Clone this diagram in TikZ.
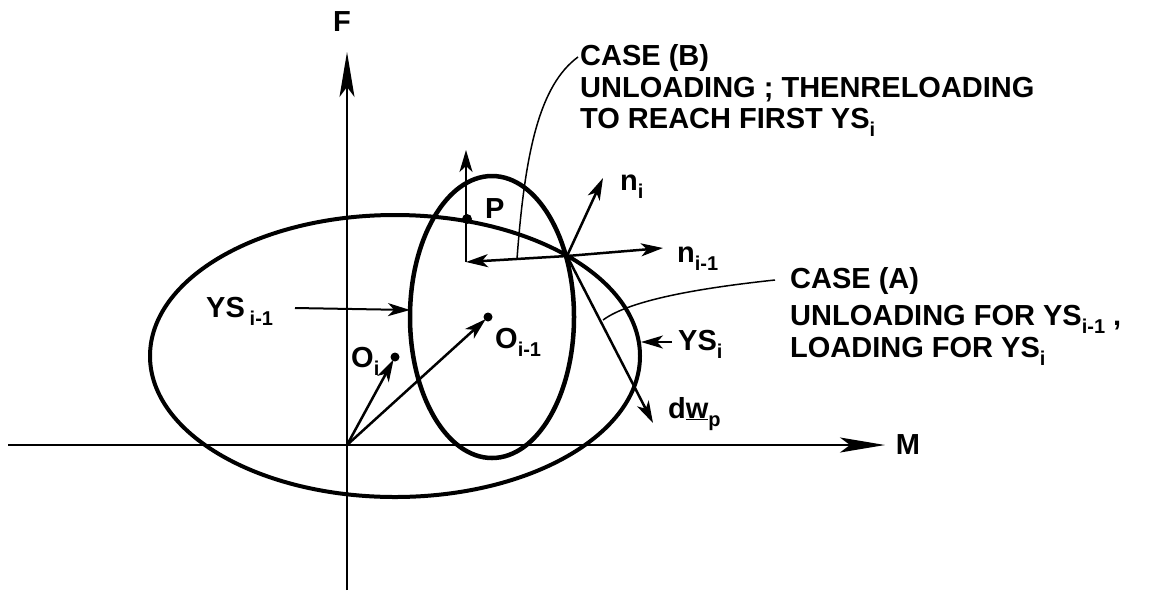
\documentclass[tikz,border=0pt]{standalone}
\usepackage{fontspec}
\setmainfont{Liberation Sans}
\usetikzlibrary{arrows.meta}
\newcommand{\lsub}[1]{\raisebox{-8pt}{\fontsize{20pt}{20pt}\selectfont #1}}
\begin{document}
\begin{tikzpicture}[x=1pt,y=-1pt,
  lab/.style={font=\fontsize{29pt}{32pt}\selectfont\bfseries, inner sep=0pt},
  axis/.style={line width=2.5pt, -{Stealth[length=45pt,width=15pt,inset=10pt]}},
  curve/.style={line width=4pt},
  vec/.style={line width=2.5pt,-{Stealth[length=22pt,width=13pt,inset=6pt]}},
  leader/.style={line width=1.5pt},
  dot/.style={fill=black}]
\useasboundingbox (0,0) rectangle (1151,598);
% coordinates
\coordinate (O) at (347,445);
\coordinate (Mleft) at (8,445);
\coordinate (Mtip) at (885,445);
\coordinate (Fbot) at (347,590);
\coordinate (Ftip) at (347,52);
\coordinate (X) at (567,256);
\coordinate (Oi) at (395,357);
\coordinate (Oim) at (488,317);
\coordinate (P) at (467,219);
\coordinate (Q) at (466,262);
\coordinate (Qtop) at (466,150);
\coordinate (nitip) at (603,178);
\coordinate (nimtip) at (663,248);
\coordinate (dwtip) at (653,423);
\coordinate (Bfoot) at (517,259);
\coordinate (Bhead) at (578,57);
\coordinate (Afoot) at (603,320);
\coordinate (Ahead) at (775,280);
\coordinate (YSimTail) at (295,308);
\coordinate (YSimTip) at (410,310);
\coordinate (YSiTail) at (672,342);
\coordinate (YSiTip) at (641,342);
% axes
\draw[axis] (Mleft) -- (Mtip);
\draw[axis, line width=2pt] (Fbot) -- (Ftip);
\node[lab] (F) at (342,22) {F};
\node[lab] (M) at (908,445) {M};
% yield surfaces
\draw[curve] (395,356) ellipse [x radius=245pt, y radius=141pt];
\draw[curve, line width=4.5pt] (492,317) ellipse [x radius=82pt, y radius=141pt];
% centres
\fill[dot] (Oi) circle (4.5pt);
\fill[dot] (Oim) circle (4.5pt);
\draw[vec, shorten >=3pt] (O) -- (Oi);
\draw[vec, shorten >=3pt] (O) -- (Oim);
\node[lab, anchor=base west] (Oilab) at (351,367) {O\lsub{i}};
\node[lab, anchor=base west] (Oimlab) at (495,348) {O\lsub{i-1}};
% normals and increment
\draw[vec] (X) -- (nitip);
\draw[vec] (X) -- (nimtip);
\draw[vec] (X) -- (dwtip);
\node[lab, anchor=base west] (nilab) at (620,190) {n\lsub{i}};
\node[lab, anchor=base west] (nimlab) at (677,262) {n\lsub{i-1}};
\node[lab, anchor=base west] (dwlab) at (668,418) {d\underline{w}\lsub{p}};
% point P construction
\draw[vec] (X) -- (Q);
\draw[vec, line width=2pt] (Q) -- (Qtop);
\fill[dot] (P) circle (5pt);
\node[lab, anchor=base west] (Plab) at (485,218) {P};
% YS labels
\node[lab, anchor=base west] (YSimlab) at (206,317) {YS\,\lsub{i-1}};
\draw[vec, line width=2pt] (YSimTail) -- (YSimTip);
\node[lab, anchor=base west] (YSilab) at (678,350) {YS\lsub{i}};
\draw[vec, line width=2pt] (YSiTail) -- (YSiTip);
% case B
\draw[leader] (Bfoot) .. controls (525,150) and (540,85) .. (Bhead);
\node[lab, anchor=base west] (B1) at (580,65) {CASE (B)};
\node[lab, anchor=base west] (B2) at (580,97) {UNLOADING ; THENRELOADING};
\node[lab, anchor=base west] (B3) at (580,128) {TO REACH FIRST YS\lsub{i}};
% case A
\draw[leader] (Afoot) .. controls (630,300) and (700,288) .. (Ahead);
\node[lab, anchor=base west] (A1) at (790,288) {CASE (A)};
\node[lab, anchor=base west] (A2) at (790,325) {UNLOADING FOR YS\lsub{i-1} ,};
\node[lab, anchor=base west] (A3) at (790,357) {LOADING FOR YS\lsub{i}};
\end{tikzpicture}
\end{document}
